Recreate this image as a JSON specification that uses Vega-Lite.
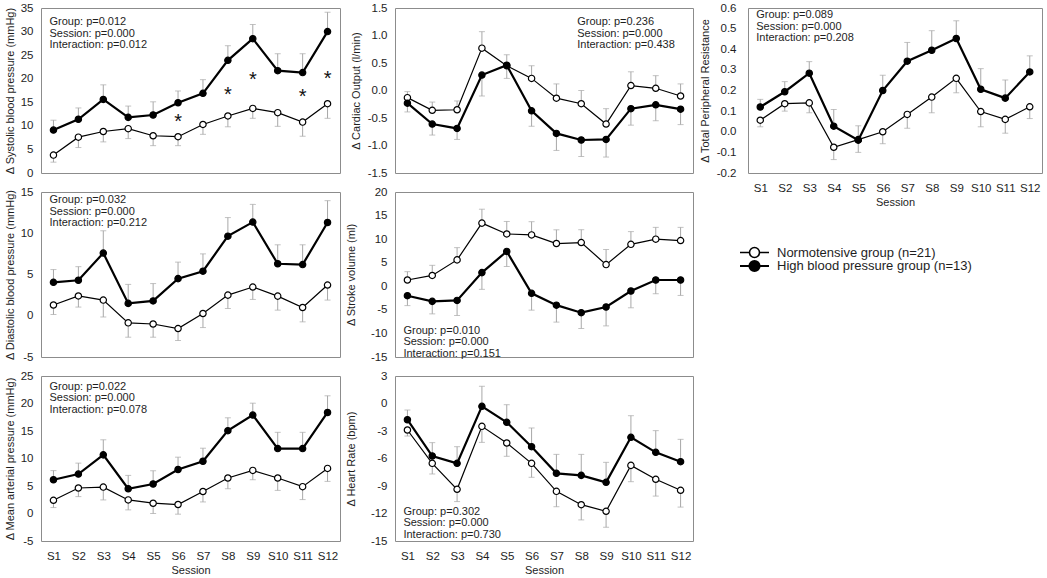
{
  "$schema": "https://vega.github.io/schema/vega-lite/v6.json",
  "background": "white",
  "padding": {"top": 1, "left": 3, "right": 0, "bottom": 0},
  "config": {
    "font": "Liberation Sans",
    "view": {"stroke": "#8c8c8c", "strokeWidth": 1},
    "axis": {"grid": false, "ticks": false, "tickSize": 0, "domain": false, "labelOverlap": false, "labelFont": "Liberation Sans", "labelFontSize": 11.5, "labelColor": "#1e1e1e", "titleFont": "Liberation Sans", "titleFontSize": 11, "titleFontWeight": "normal", "titleColor": "#1e1e1e"},
    "axisY": {"labelExpr": "replace(datum.label, '\u2212', '-')", "tickCount": 20}
  },
  "datasets": {
    "bp": [
      {"panel":"SBP","session":"S1","group":"Normotensive","mean":3.8,"bar":2.3},
      {"panel":"SBP","session":"S2","group":"Normotensive","mean":7.6,"bar":5.4},
      {"panel":"SBP","session":"S3","group":"Normotensive","mean":8.8,"bar":6.6},
      {"panel":"SBP","session":"S4","group":"Normotensive","mean":9.4,"bar":7.3},
      {"panel":"SBP","session":"S5","group":"Normotensive","mean":7.9,"bar":5.8},
      {"panel":"SBP","session":"S6","group":"Normotensive","mean":7.7,"bar":5.8},
      {"panel":"SBP","session":"S7","group":"Normotensive","mean":10.3,"bar":8.2},
      {"panel":"SBP","session":"S8","group":"Normotensive","mean":12.1,"bar":9.8},
      {"panel":"SBP","session":"S9","group":"Normotensive","mean":13.7,"bar":11.6},
      {"panel":"SBP","session":"S10","group":"Normotensive","mean":12.8,"bar":9.9},
      {"panel":"SBP","session":"S11","group":"Normotensive","mean":10.8,"bar":7.8},
      {"panel":"SBP","session":"S12","group":"Normotensive","mean":14.7,"bar":11.6},
      {"panel":"SBP","session":"S1","group":"High","mean":9.1,"bar":11.2},
      {"panel":"SBP","session":"S2","group":"High","mean":11.4,"bar":13.8},
      {"panel":"SBP","session":"S3","group":"High","mean":15.6,"bar":18.7},
      {"panel":"SBP","session":"S4","group":"High","mean":11.8,"bar":14.2},
      {"panel":"SBP","session":"S5","group":"High","mean":12.3,"bar":15.1},
      {"panel":"SBP","session":"S6","group":"High","mean":14.9,"bar":17.4},
      {"panel":"SBP","session":"S7","group":"High","mean":16.9,"bar":19.8},
      {"panel":"SBP","session":"S8","group":"High","mean":23.9,"bar":27.0},
      {"panel":"SBP","session":"S9","group":"High","mean":28.5,"bar":31.5},
      {"panel":"SBP","session":"S10","group":"High","mean":21.7,"bar":25.3},
      {"panel":"SBP","session":"S11","group":"High","mean":21.3,"bar":25.3},
      {"panel":"SBP","session":"S12","group":"High","mean":30.0,"bar":34.1},

      {"panel":"CO","session":"S1","group":"Normotensive","mean":-0.13,"bar":-0.02},
      {"panel":"CO","session":"S2","group":"Normotensive","mean":-0.36,"bar":-0.21},
      {"panel":"CO","session":"S3","group":"Normotensive","mean":-0.35,"bar":-0.19},
      {"panel":"CO","session":"S4","group":"Normotensive","mean":0.77,"bar":1.07},
      {"panel":"CO","session":"S5","group":"Normotensive","mean":0.45,"bar":0.65},
      {"panel":"CO","session":"S6","group":"Normotensive","mean":0.22,"bar":0.45},
      {"panel":"CO","session":"S7","group":"Normotensive","mean":-0.14,"bar":0.12},
      {"panel":"CO","session":"S8","group":"Normotensive","mean":-0.24,"bar":0.0},
      {"panel":"CO","session":"S9","group":"Normotensive","mean":-0.61,"bar":-0.33},
      {"panel":"CO","session":"S10","group":"Normotensive","mean":0.09,"bar":0.34},
      {"panel":"CO","session":"S11","group":"Normotensive","mean":0.04,"bar":0.27},
      {"panel":"CO","session":"S12","group":"Normotensive","mean":-0.1,"bar":0.12},
      {"panel":"CO","session":"S1","group":"High","mean":-0.23,"bar":-0.39},
      {"panel":"CO","session":"S2","group":"High","mean":-0.61,"bar":-0.81},
      {"panel":"CO","session":"S3","group":"High","mean":-0.69,"bar":-0.89},
      {"panel":"CO","session":"S4","group":"High","mean":0.28,"bar":-0.1},
      {"panel":"CO","session":"S5","group":"High","mean":0.46,"bar":0.22},
      {"panel":"CO","session":"S6","group":"High","mean":-0.37,"bar":-0.65},
      {"panel":"CO","session":"S7","group":"High","mean":-0.78,"bar":-1.09},
      {"panel":"CO","session":"S8","group":"High","mean":-0.9,"bar":-1.2},
      {"panel":"CO","session":"S9","group":"High","mean":-0.89,"bar":-1.21},
      {"panel":"CO","session":"S10","group":"High","mean":-0.33,"bar":-0.63},
      {"panel":"CO","session":"S11","group":"High","mean":-0.26,"bar":-0.55},
      {"panel":"CO","session":"S12","group":"High","mean":-0.34,"bar":-0.62},

      {"panel":"TPR","session":"S1","group":"Normotensive","mean":0.056,"bar":0.024},
      {"panel":"TPR","session":"S2","group":"Normotensive","mean":0.136,"bar":0.1},
      {"panel":"TPR","session":"S3","group":"Normotensive","mean":0.14,"bar":0.092},
      {"panel":"TPR","session":"S4","group":"Normotensive","mean":-0.075,"bar":-0.135},
      {"panel":"TPR","session":"S5","group":"Normotensive","mean":-0.038,"bar":-0.1},
      {"panel":"TPR","session":"S6","group":"Normotensive","mean":0.0,"bar":-0.058},
      {"panel":"TPR","session":"S7","group":"Normotensive","mean":0.084,"bar":0.017},
      {"panel":"TPR","session":"S8","group":"Normotensive","mean":0.168,"bar":0.092},
      {"panel":"TPR","session":"S9","group":"Normotensive","mean":0.259,"bar":0.189},
      {"panel":"TPR","session":"S10","group":"Normotensive","mean":0.098,"bar":0.024},
      {"panel":"TPR","session":"S11","group":"Normotensive","mean":0.06,"bar":-0.007},
      {"panel":"TPR","session":"S12","group":"Normotensive","mean":0.121,"bar":0.064},
      {"panel":"TPR","session":"S1","group":"High","mean":0.12,"bar":0.157},
      {"panel":"TPR","session":"S2","group":"High","mean":0.194,"bar":0.243},
      {"panel":"TPR","session":"S3","group":"High","mean":0.284,"bar":0.34},
      {"panel":"TPR","session":"S4","group":"High","mean":0.027,"bar":0.108},
      {"panel":"TPR","session":"S5","group":"High","mean":-0.041,"bar":0.029},
      {"panel":"TPR","session":"S6","group":"High","mean":0.2,"bar":0.274},
      {"panel":"TPR","session":"S7","group":"High","mean":0.342,"bar":0.433},
      {"panel":"TPR","session":"S8","group":"High","mean":0.395,"bar":0.49},
      {"panel":"TPR","session":"S9","group":"High","mean":0.452,"bar":0.538},
      {"panel":"TPR","session":"S10","group":"High","mean":0.206,"bar":0.306},
      {"panel":"TPR","session":"S11","group":"High","mean":0.163,"bar":0.251},
      {"panel":"TPR","session":"S12","group":"High","mean":0.29,"bar":0.368},

      {"panel":"DBP","session":"S1","group":"Normotensive","mean":1.3,"bar":0.15},
      {"panel":"DBP","session":"S2","group":"Normotensive","mean":2.4,"bar":1.05},
      {"panel":"DBP","session":"S3","group":"Normotensive","mean":1.9,"bar":-0.15},
      {"panel":"DBP","session":"S4","group":"Normotensive","mean":-0.86,"bar":-2.6},
      {"panel":"DBP","session":"S5","group":"Normotensive","mean":-1.0,"bar":-2.6},
      {"panel":"DBP","session":"S6","group":"Normotensive","mean":-1.55,"bar":-3.0},
      {"panel":"DBP","session":"S7","group":"Normotensive","mean":0.27,"bar":-1.43},
      {"panel":"DBP","session":"S8","group":"Normotensive","mean":2.5,"bar":0.88},
      {"panel":"DBP","session":"S9","group":"Normotensive","mean":3.48,"bar":1.98},
      {"panel":"DBP","session":"S10","group":"Normotensive","mean":2.38,"bar":0.68},
      {"panel":"DBP","session":"S11","group":"Normotensive","mean":1.0,"bar":-0.74},
      {"panel":"DBP","session":"S12","group":"Normotensive","mean":3.72,"bar":1.9},
      {"panel":"DBP","session":"S1","group":"High","mean":4.05,"bar":5.6},
      {"panel":"DBP","session":"S2","group":"High","mean":4.3,"bar":5.95},
      {"panel":"DBP","session":"S3","group":"High","mean":7.6,"bar":10.3},
      {"panel":"DBP","session":"S4","group":"High","mean":1.5,"bar":3.8},
      {"panel":"DBP","session":"S5","group":"High","mean":1.8,"bar":3.9},
      {"panel":"DBP","session":"S6","group":"High","mean":4.5,"bar":6.5},
      {"panel":"DBP","session":"S7","group":"High","mean":5.4,"bar":7.5},
      {"panel":"DBP","session":"S8","group":"High","mean":9.65,"bar":11.9},
      {"panel":"DBP","session":"S9","group":"High","mean":11.35,"bar":13.5},
      {"panel":"DBP","session":"S10","group":"High","mean":6.3,"bar":8.6},
      {"panel":"DBP","session":"S11","group":"High","mean":6.2,"bar":8.6},
      {"panel":"DBP","session":"S12","group":"High","mean":11.3,"bar":13.95},

      {"panel":"SV","session":"S1","group":"Normotensive","mean":1.33,"bar":3.1},
      {"panel":"SV","session":"S2","group":"Normotensive","mean":2.3,"bar":4.45},
      {"panel":"SV","session":"S3","group":"Normotensive","mean":5.6,"bar":8.2},
      {"panel":"SV","session":"S4","group":"Normotensive","mean":13.4,"bar":16.35},
      {"panel":"SV","session":"S5","group":"Normotensive","mean":11.1,"bar":13.75},
      {"panel":"SV","session":"S6","group":"Normotensive","mean":10.9,"bar":13.7},
      {"panel":"SV","session":"S7","group":"Normotensive","mean":9.07,"bar":11.98},
      {"panel":"SV","session":"S8","group":"Normotensive","mean":9.28,"bar":12.0},
      {"panel":"SV","session":"S9","group":"Normotensive","mean":4.6,"bar":7.8},
      {"panel":"SV","session":"S10","group":"Normotensive","mean":8.9,"bar":11.6},
      {"panel":"SV","session":"S11","group":"Normotensive","mean":10.0,"bar":12.5},
      {"panel":"SV","session":"S12","group":"Normotensive","mean":9.7,"bar":12.5},
      {"panel":"SV","session":"S1","group":"High","mean":-2.0,"bar":-4.1},
      {"panel":"SV","session":"S2","group":"High","mean":-3.2,"bar":-5.85},
      {"panel":"SV","session":"S3","group":"High","mean":-3.0,"bar":-6.2},
      {"panel":"SV","session":"S4","group":"High","mean":2.9,"bar":-0.65},
      {"panel":"SV","session":"S5","group":"High","mean":7.4,"bar":4.2},
      {"panel":"SV","session":"S6","group":"High","mean":-1.5,"bar":-5.06},
      {"panel":"SV","session":"S7","group":"High","mean":-4.0,"bar":-7.6},
      {"panel":"SV","session":"S8","group":"High","mean":-5.6,"bar":-8.95},
      {"panel":"SV","session":"S9","group":"High","mean":-4.4,"bar":-8.4},
      {"panel":"SV","session":"S10","group":"High","mean":-1.0,"bar":-4.56},
      {"panel":"SV","session":"S11","group":"High","mean":1.33,"bar":-1.58},
      {"panel":"SV","session":"S12","group":"High","mean":1.33,"bar":-1.94},

      {"panel":"MAP","session":"S1","group":"Normotensive","mean":2.4,"bar":1.08},
      {"panel":"MAP","session":"S2","group":"Normotensive","mean":4.64,"bar":3.07},
      {"panel":"MAP","session":"S3","group":"Normotensive","mean":4.8,"bar":2.47},
      {"panel":"MAP","session":"S4","group":"Normotensive","mean":2.47,"bar":0.66},
      {"panel":"MAP","session":"S5","group":"Normotensive","mean":1.87,"bar":0.0},
      {"panel":"MAP","session":"S6","group":"Normotensive","mean":1.63,"bar":-0.12},
      {"panel":"MAP","session":"S7","group":"Normotensive","mean":4.0,"bar":2.1},
      {"panel":"MAP","session":"S8","group":"Normotensive","mean":6.45,"bar":4.5},
      {"panel":"MAP","session":"S9","group":"Normotensive","mean":7.83,"bar":6.14},
      {"panel":"MAP","session":"S10","group":"Normotensive","mean":6.45,"bar":4.2},
      {"panel":"MAP","session":"S11","group":"Normotensive","mean":4.88,"bar":2.53},
      {"panel":"MAP","session":"S12","group":"Normotensive","mean":8.2,"bar":5.84},
      {"panel":"MAP","session":"S1","group":"High","mean":6.14,"bar":7.8},
      {"panel":"MAP","session":"S2","group":"High","mean":7.17,"bar":9.16},
      {"panel":"MAP","session":"S3","group":"High","mean":10.66,"bar":13.4},
      {"panel":"MAP","session":"S4","group":"High","mean":4.5,"bar":6.93},
      {"panel":"MAP","session":"S5","group":"High","mean":5.36,"bar":7.77},
      {"panel":"MAP","session":"S6","group":"High","mean":8.0,"bar":10.24},
      {"panel":"MAP","session":"S7","group":"High","mean":9.5,"bar":11.87},
      {"panel":"MAP","session":"S8","group":"High","mean":15.06,"bar":17.4},
      {"panel":"MAP","session":"S9","group":"High","mean":17.9,"bar":20.06},
      {"panel":"MAP","session":"S10","group":"High","mean":11.8,"bar":14.76},
      {"panel":"MAP","session":"S11","group":"High","mean":11.8,"bar":14.76},
      {"panel":"MAP","session":"S12","group":"High","mean":18.37,"bar":21.4},

      {"panel":"HR","session":"S1","group":"Normotensive","mean":-2.89,"bar":-3.55},
      {"panel":"HR","session":"S2","group":"Normotensive","mean":-6.53,"bar":-7.69},
      {"panel":"HR","session":"S3","group":"Normotensive","mean":-9.36,"bar":-10.7},
      {"panel":"HR","session":"S4","group":"Normotensive","mean":-2.49,"bar":-4.24},
      {"panel":"HR","session":"S5","group":"Normotensive","mean":-4.31,"bar":-5.76},
      {"panel":"HR","session":"S6","group":"Normotensive","mean":-6.53,"bar":-8.05},
      {"panel":"HR","session":"S7","group":"Normotensive","mean":-9.58,"bar":-11.26},
      {"panel":"HR","session":"S8","group":"Normotensive","mean":-11.04,"bar":-12.7},
      {"panel":"HR","session":"S9","group":"Normotensive","mean":-11.76,"bar":-13.5},
      {"panel":"HR","session":"S10","group":"Normotensive","mean":-6.75,"bar":-8.53},
      {"panel":"HR","session":"S11","group":"Normotensive","mean":-8.27,"bar":-10.1},
      {"panel":"HR","session":"S12","group":"Normotensive","mean":-9.47,"bar":-11.3},
      {"panel":"HR","session":"S1","group":"High","mean":-1.77,"bar":-0.71},
      {"panel":"HR","session":"S2","group":"High","mean":-5.73,"bar":-4.27},
      {"panel":"HR","session":"S3","group":"High","mean":-6.53,"bar":-4.71},
      {"panel":"HR","session":"S4","group":"High","mean":-0.31,"bar":1.88},
      {"panel":"HR","session":"S5","group":"High","mean":-2.05,"bar":-0.13},
      {"panel":"HR","session":"S6","group":"High","mean":-4.71,"bar":-2.67},
      {"panel":"HR","session":"S7","group":"High","mean":-7.62,"bar":-5.55},
      {"panel":"HR","session":"S8","group":"High","mean":-7.84,"bar":-5.55},
      {"panel":"HR","session":"S9","group":"High","mean":-8.6,"bar":-6.42},
      {"panel":"HR","session":"S10","group":"High","mean":-3.69,"bar":-1.33},
      {"panel":"HR","session":"S11","group":"High","mean":-5.33,"bar":-2.96},
      {"panel":"HR","session":"S12","group":"High","mean":-6.35,"bar":-3.91}
    ],
    "notes": [
      {"panel":"SBP","session":"S1","y":33.2,"label":"Group: p=0.012\nSession: p=0.000\nInteraction: p=0.012"},
      {"panel":"CO","session":"S8","y":1.35,"label":"Group: p=0.236\nSession: p=0.000\nInteraction: p=0.438"},
      {"panel":"TPR","session":"S1","y":0.594,"label":"Group: p=0.089\nSession: p=0.000\nInteraction: p=0.208"},
      {"panel":"DBP","session":"S1","y":14.72,"label":"Group: p=0.032\nSession: p=0.000\nInteraction: p=0.212"},
      {"panel":"SV","session":"S1","y":-8.13,"label":"Group: p=0.010\nSession: p=0.000\nInteraction: p=0.151"},
      {"panel":"MAP","session":"S1","y":24.1,"label":"Group: p=0.022\nSession: p=0.000\nInteraction: p=0.078"},
      {"panel":"HR","session":"S1","y":-11.18,"label":"Group: p=0.302\nSession: p=0.000\nInteraction: p=0.730"}
    ],
    "stars": [
      {"panel":"SBP","session":"S6","y":11.67},
      {"panel":"SBP","session":"S8","y":17.46},
      {"panel":"SBP","session":"S9","y":20.64},
      {"panel":"SBP","session":"S11","y":16.9},
      {"panel":"SBP","session":"S12","y":20.79}
    ]
  },
  "columns": 3,
  "spacing": {"row": 19, "column": 55},
  "bounds": "flush",
  "resolve": {"scale": {"fill": "independent", "strokeWidth": "independent"}, "legend": {"fill": "independent"}},
  "concat": [
    {
      "width": 299, "height": 165,
      "encoding": {"x": {"field": "session", "type": "ordinal", "scale": {"type": "point", "padding": 0.5, "domain": ["S1","S2","S3","S4","S5","S6","S7","S8","S9","S10","S11","S12"]}, "axis": null}},
      "layer": [
        {
          "data": {"name": "bp"},
          "transform": [{"filter": "datum.panel == 'SBP'"}],
          "layer": [
            {"mark": {"type": "rule", "color": "#a8a8a8", "strokeWidth": 1},
             "encoding": {"y": {"field": "mean", "type": "quantitative", "scale": {"domain": [0, 35], "nice": false, "zero": false},
               "axis": {"title": "Δ Systolic blood pressure (mmHg)", "values": [0,5,10,15,20,25,30,35], "tickCount": 20, "labelPadding": 8, "titlePadding": 5}},
               "y2": {"field": "bar"}}},
            {"mark": {"type": "tick", "color": "#a8a8a8", "thickness": 1, "size": 6},
             "encoding": {"y": {"field": "bar", "type": "quantitative", "scale": {"domain": [0, 35], "nice": false, "zero": false}}}},
            {"mark": {"type": "line", "color": "black"},
             "encoding": {"y": {"field": "mean", "type": "quantitative", "scale": {"domain": [0, 35], "nice": false, "zero": false}},
               "strokeWidth": {"field": "group", "type": "nominal", "scale": {"domain": ["Normotensive", "High"], "range": [1.2, 2.2]}, "legend": null},
               "order": {"value": null}}},
            {"mark": {"type": "circle", "stroke": "black", "strokeWidth": 1.2, "size": 40, "opacity": 1},
             "encoding": {"y": {"field": "mean", "type": "quantitative", "scale": {"domain": [0, 35], "nice": false, "zero": false}},
               "fill": {"field": "group", "type": "nominal", "scale": {"domain": ["Normotensive", "High"], "range": ["white", "black"]}, "legend": null}}}
          ]
        },
        {
          "data": {"name": "notes"},
          "transform": [{"filter": "datum.panel == 'SBP'"}],
          "mark": {"type": "text", "align": "left", "baseline": "top", "dx": -4, "fontSize": 11, "lineHeight": 11.5, "lineBreak": "\n", "color": "#1e1e1e"},
          "encoding": {"y": {"field": "y", "type": "quantitative", "scale": {"domain": [0, 35], "nice": false, "zero": false}}, "text": {"field": "label"}}
        },
        {
          "data": {"name": "stars"},
          "mark": {"type": "text", "text": "*", "fontSize": 20, "baseline": "middle", "dy": 4, "color": "#111111"},
          "encoding": {"y": {"field": "y", "type": "quantitative", "scale": {"domain": [0, 35], "nice": false, "zero": false}}}
        }
      ]
    },
    {
      "width": 298, "height": 165,
      "encoding": {"x": {"field": "session", "type": "ordinal", "scale": {"type": "point", "padding": 0.5, "domain": ["S1","S2","S3","S4","S5","S6","S7","S8","S9","S10","S11","S12"]}, "axis": null}},
      "layer": [
        {
          "data": {"name": "bp"},
          "transform": [{"filter": "datum.panel == 'CO'"}],
          "layer": [
            {"mark": {"type": "rule", "color": "#a8a8a8", "strokeWidth": 1},
             "encoding": {"y": {"field": "mean", "type": "quantitative", "scale": {"domain": [-1.5, 1.5], "nice": false, "zero": false},
               "axis": {"title": "Δ Cardiac Output (l/min)", "values": [-1.5,-1,-0.5,0,0.5,1,1.5], "tickCount": 20, "format": ".1f", "labelPadding": 8, "titlePadding": 6}},
               "y2": {"field": "bar"}}},
            {"mark": {"type": "tick", "color": "#a8a8a8", "thickness": 1, "size": 6},
             "encoding": {"y": {"field": "bar", "type": "quantitative", "scale": {"domain": [-1.5, 1.5], "nice": false, "zero": false}}}},
            {"mark": {"type": "line", "color": "black"},
             "encoding": {"y": {"field": "mean", "type": "quantitative", "scale": {"domain": [-1.5, 1.5], "nice": false, "zero": false}},
               "strokeWidth": {"field": "group", "type": "nominal", "scale": {"domain": ["Normotensive", "High"], "range": [1.2, 2.2]}, "legend": null},
               "order": {"value": null}}},
            {"mark": {"type": "circle", "stroke": "black", "strokeWidth": 1.2, "size": 40, "opacity": 1},
             "encoding": {"y": {"field": "mean", "type": "quantitative", "scale": {"domain": [-1.5, 1.5], "nice": false, "zero": false}},
               "fill": {"field": "group", "type": "nominal", "scale": {"domain": ["Normotensive", "High"], "range": ["white", "black"]}, "legend": null}}}
          ]
        },
        {
          "data": {"name": "notes"},
          "transform": [{"filter": "datum.panel == 'CO'"}],
          "mark": {"type": "text", "align": "left", "baseline": "top", "dx": -4, "fontSize": 11, "lineHeight": 11.5, "lineBreak": "\n", "color": "#1e1e1e"},
          "encoding": {"y": {"field": "y", "type": "quantitative", "scale": {"domain": [-1.5, 1.5], "nice": false, "zero": false}}, "text": {"field": "label"}}
        }
      ]
    },
    {
      "width": 294, "height": 165,
      "encoding": {"x": {"field": "session", "type": "ordinal", "scale": {"type": "point", "padding": 0.5, "domain": ["S1","S2","S3","S4","S5","S6","S7","S8","S9","S10","S11","S12"]},
        "axis": {"title": "Session", "labelAngle": 0, "labelPadding": 9, "titlePadding": 3}}},
      "layer": [
        {
          "data": {"name": "bp"},
          "transform": [{"filter": "datum.panel == 'TPR'"}],
          "layer": [
            {"mark": {"type": "rule", "color": "#a8a8a8", "strokeWidth": 1},
             "encoding": {"y": {"field": "mean", "type": "quantitative", "scale": {"domain": [-0.2, 0.6], "nice": false, "zero": false},
               "axis": {"title": "Δ Total Peripheral Resistance", "values": [-0.2,-0.1,0,0.1,0.2,0.3,0.4,0.5,0.6], "tickCount": 20, "format": ".1f", "labelPadding": 12, "titlePadding": 6}},
               "y2": {"field": "bar"}}},
            {"mark": {"type": "tick", "color": "#a8a8a8", "thickness": 1, "size": 6},
             "encoding": {"y": {"field": "bar", "type": "quantitative", "scale": {"domain": [-0.2, 0.6], "nice": false, "zero": false}}}},
            {"mark": {"type": "line", "color": "black"},
             "encoding": {"y": {"field": "mean", "type": "quantitative", "scale": {"domain": [-0.2, 0.6], "nice": false, "zero": false}},
               "strokeWidth": {"field": "group", "type": "nominal", "scale": {"domain": ["Normotensive", "High"], "range": [1.2, 2.2]}, "legend": null},
               "order": {"value": null}}},
            {"mark": {"type": "circle", "stroke": "black", "strokeWidth": 1.2, "size": 40, "opacity": 1},
             "encoding": {"y": {"field": "mean", "type": "quantitative", "scale": {"domain": [-0.2, 0.6], "nice": false, "zero": false}},
               "fill": {"field": "group", "type": "nominal", "scale": {"domain": ["Normotensive", "High"], "range": ["white", "black"]}, "legend": null}}}
          ]
        },
        {
          "data": {"name": "notes"},
          "transform": [{"filter": "datum.panel == 'TPR'"}],
          "mark": {"type": "text", "align": "left", "baseline": "top", "dx": -4, "fontSize": 11, "lineHeight": 11.5, "lineBreak": "\n", "color": "#1e1e1e"},
          "encoding": {"y": {"field": "y", "type": "quantitative", "scale": {"domain": [-0.2, 0.6], "nice": false, "zero": false}}, "text": {"field": "label"}}
        }
      ]
    },
    {
      "width": 299, "height": 165,
      "encoding": {"x": {"field": "session", "type": "ordinal", "scale": {"type": "point", "padding": 0.5, "domain": ["S1","S2","S3","S4","S5","S6","S7","S8","S9","S10","S11","S12"]}, "axis": null}},
      "layer": [
        {
          "data": {"name": "bp"},
          "transform": [{"filter": "datum.panel == 'DBP'"}],
          "layer": [
            {"mark": {"type": "rule", "color": "#a8a8a8", "strokeWidth": 1},
             "encoding": {"y": {"field": "mean", "type": "quantitative", "scale": {"domain": [-5, 15], "nice": false, "zero": false},
               "axis": {"title": "Δ Diastolic blood pressure (mmHg)", "values": [-5,0,5,10,15], "tickCount": 20, "labelPadding": 8, "titlePadding": 5}},
               "y2": {"field": "bar"}}},
            {"mark": {"type": "tick", "color": "#a8a8a8", "thickness": 1, "size": 6},
             "encoding": {"y": {"field": "bar", "type": "quantitative", "scale": {"domain": [-5, 15], "nice": false, "zero": false}}}},
            {"mark": {"type": "line", "color": "black"},
             "encoding": {"y": {"field": "mean", "type": "quantitative", "scale": {"domain": [-5, 15], "nice": false, "zero": false}},
               "strokeWidth": {"field": "group", "type": "nominal", "scale": {"domain": ["Normotensive", "High"], "range": [1.2, 2.2]}, "legend": null},
               "order": {"value": null}}},
            {"mark": {"type": "circle", "stroke": "black", "strokeWidth": 1.2, "size": 40, "opacity": 1},
             "encoding": {"y": {"field": "mean", "type": "quantitative", "scale": {"domain": [-5, 15], "nice": false, "zero": false}},
               "fill": {"field": "group", "type": "nominal", "scale": {"domain": ["Normotensive", "High"], "range": ["white", "black"]}, "legend": null}}}
          ]
        },
        {
          "data": {"name": "notes"},
          "transform": [{"filter": "datum.panel == 'DBP'"}],
          "mark": {"type": "text", "align": "left", "baseline": "top", "dx": -4, "fontSize": 11, "lineHeight": 11.5, "lineBreak": "\n", "color": "#1e1e1e"},
          "encoding": {"y": {"field": "y", "type": "quantitative", "scale": {"domain": [-5, 15], "nice": false, "zero": false}}, "text": {"field": "label"}}
        }
      ]
    },
    {
      "width": 298, "height": 165,
      "encoding": {"x": {"field": "session", "type": "ordinal", "scale": {"type": "point", "padding": 0.5, "domain": ["S1","S2","S3","S4","S5","S6","S7","S8","S9","S10","S11","S12"]}, "axis": null}},
      "layer": [
        {
          "data": {"name": "bp"},
          "transform": [{"filter": "datum.panel == 'SV'"}],
          "layer": [
            {"mark": {"type": "rule", "color": "#a8a8a8", "strokeWidth": 1},
             "encoding": {"y": {"field": "mean", "type": "quantitative", "scale": {"domain": [-15, 20], "nice": false, "zero": false},
               "axis": {"title": "Δ Stroke volume (ml)", "values": [-15,-10,-5,0,5,10,15,20], "tickCount": 20, "labelPadding": 8, "titlePadding": 14}},
               "y2": {"field": "bar"}}},
            {"mark": {"type": "tick", "color": "#a8a8a8", "thickness": 1, "size": 6},
             "encoding": {"y": {"field": "bar", "type": "quantitative", "scale": {"domain": [-15, 20], "nice": false, "zero": false}}}},
            {"mark": {"type": "line", "color": "black"},
             "encoding": {"y": {"field": "mean", "type": "quantitative", "scale": {"domain": [-15, 20], "nice": false, "zero": false}},
               "strokeWidth": {"field": "group", "type": "nominal", "scale": {"domain": ["Normotensive", "High"], "range": [1.2, 2.2]}, "legend": null},
               "order": {"value": null}}},
            {"mark": {"type": "circle", "stroke": "black", "strokeWidth": 1.2, "size": 40, "opacity": 1},
             "encoding": {"y": {"field": "mean", "type": "quantitative", "scale": {"domain": [-15, 20], "nice": false, "zero": false}},
               "fill": {"field": "group", "type": "nominal", "scale": {"domain": ["Normotensive", "High"], "range": ["white", "black"]}, "legend": null}}}
          ]
        },
        {
          "data": {"name": "notes"},
          "transform": [{"filter": "datum.panel == 'SV'"}],
          "mark": {"type": "text", "align": "left", "baseline": "top", "dx": -4, "fontSize": 11, "lineHeight": 11.5, "lineBreak": "\n", "color": "#1e1e1e"},
          "encoding": {"y": {"field": "y", "type": "quantitative", "scale": {"domain": [-15, 20], "nice": false, "zero": false}}, "text": {"field": "label"}}
        }
      ]
    },
    {
      "width": 294, "height": 165,
      "view": {"stroke": null},
      "data": {"name": "bp"},
      "transform": [{"filter": "datum.panel == 'none'"}],
      "resolve": {"legend": {"fill": "independent"}},
      "layer": [
        {
          "mark": {"type": "circle", "opacity": 1},
          "encoding": {
            "fill": {"field": "group", "type": "nominal", "scale": {"domain": ["Normotensive", "High"], "range": ["white", "black"]},
              "legend": {"title": null, "orient": "none", "legendX": 0, "legendY": 54, "padding": 0, "values": ["Normotensive"],
                "symbolType": "M-2.9,0L-1,0M1,0L2.9,0M1,0A1,1,0,1,1,-1,0A1,1,0,1,1,1,0Z",
                "symbolSize": 100, "symbolStrokeColor": "black", "symbolStrokeWidth": 1.6, "symbolOpacity": 1,
                "labelFont": "Liberation Sans", "labelFontSize": 13, "labelColor": "#1e1e1e", "labelOffset": 16, "labelLimit": 400,
                "labelExpr": "'Normotensive group (n=21)'"}}
          }
        },
        {
          "mark": {"type": "circle", "opacity": 1},
          "encoding": {
            "fill": {"field": "group", "type": "nominal", "scale": {"domain": ["Normotensive", "High"], "range": ["white", "black"]},
              "legend": {"title": null, "orient": "none", "legendX": 0, "legendY": 67.5, "padding": 0, "values": ["High"],
                "symbolType": "M-2.9,0L-1,0M1,0L2.9,0M1,0A1,1,0,1,1,-1,0A1,1,0,1,1,1,0Z",
                "symbolSize": 100, "symbolStrokeColor": "black", "symbolStrokeWidth": 2.2, "symbolOpacity": 1,
                "labelFont": "Liberation Sans", "labelFontSize": 13, "labelColor": "#1e1e1e", "labelOffset": 16, "labelLimit": 400,
                "labelExpr": "'High blood pressure group (n=13)'"}}
          }
        }
      ]
    },
    {
      "width": 299, "height": 165,
      "encoding": {"x": {"field": "session", "type": "ordinal", "scale": {"type": "point", "padding": 0.5, "domain": ["S1","S2","S3","S4","S5","S6","S7","S8","S9","S10","S11","S12"]},
        "axis": {"title": "Session", "labelAngle": 0, "labelPadding": 9, "titlePadding": 3}}},
      "layer": [
        {
          "data": {"name": "bp"},
          "transform": [{"filter": "datum.panel == 'MAP'"}],
          "layer": [
            {"mark": {"type": "rule", "color": "#a8a8a8", "strokeWidth": 1},
             "encoding": {"y": {"field": "mean", "type": "quantitative", "scale": {"domain": [-5, 25], "nice": false, "zero": false},
               "axis": {"title": "Δ Mean arterial pressure (mmHg)", "values": [-5,0,5,10,15,20,25], "tickCount": 20, "labelPadding": 8, "titlePadding": 5}},
               "y2": {"field": "bar"}}},
            {"mark": {"type": "tick", "color": "#a8a8a8", "thickness": 1, "size": 6},
             "encoding": {"y": {"field": "bar", "type": "quantitative", "scale": {"domain": [-5, 25], "nice": false, "zero": false}}}},
            {"mark": {"type": "line", "color": "black"},
             "encoding": {"y": {"field": "mean", "type": "quantitative", "scale": {"domain": [-5, 25], "nice": false, "zero": false}},
               "strokeWidth": {"field": "group", "type": "nominal", "scale": {"domain": ["Normotensive", "High"], "range": [1.2, 2.2]}, "legend": null},
               "order": {"value": null}}},
            {"mark": {"type": "circle", "stroke": "black", "strokeWidth": 1.2, "size": 40, "opacity": 1},
             "encoding": {"y": {"field": "mean", "type": "quantitative", "scale": {"domain": [-5, 25], "nice": false, "zero": false}},
               "fill": {"field": "group", "type": "nominal", "scale": {"domain": ["Normotensive", "High"], "range": ["white", "black"]}, "legend": null}}}
          ]
        },
        {
          "data": {"name": "notes"},
          "transform": [{"filter": "datum.panel == 'MAP'"}],
          "mark": {"type": "text", "align": "left", "baseline": "top", "dx": -4, "fontSize": 11, "lineHeight": 11.5, "lineBreak": "\n", "color": "#1e1e1e"},
          "encoding": {"y": {"field": "y", "type": "quantitative", "scale": {"domain": [-5, 25], "nice": false, "zero": false}}, "text": {"field": "label"}}
        }
      ]
    },
    {
      "width": 298, "height": 165,
      "encoding": {"x": {"field": "session", "type": "ordinal", "scale": {"type": "point", "padding": 0.5, "domain": ["S1","S2","S3","S4","S5","S6","S7","S8","S9","S10","S11","S12"]},
        "axis": {"title": "Session", "labelAngle": 0, "labelPadding": 9, "titlePadding": 3}}},
      "layer": [
        {
          "data": {"name": "bp"},
          "transform": [{"filter": "datum.panel == 'HR'"}],
          "layer": [
            {"mark": {"type": "rule", "color": "#a8a8a8", "strokeWidth": 1},
             "encoding": {"y": {"field": "mean", "type": "quantitative", "scale": {"domain": [-15, 3], "nice": false, "zero": false},
               "axis": {"title": "Δ Heart Rate (bpm)", "values": [-15,-12,-9,-6,-3,0,3], "tickCount": 20, "labelPadding": 8, "titlePadding": 14}},
               "y2": {"field": "bar"}}},
            {"mark": {"type": "tick", "color": "#a8a8a8", "thickness": 1, "size": 6},
             "encoding": {"y": {"field": "bar", "type": "quantitative", "scale": {"domain": [-15, 3], "nice": false, "zero": false}}}},
            {"mark": {"type": "line", "color": "black"},
             "encoding": {"y": {"field": "mean", "type": "quantitative", "scale": {"domain": [-15, 3], "nice": false, "zero": false}},
               "strokeWidth": {"field": "group", "type": "nominal", "scale": {"domain": ["Normotensive", "High"], "range": [1.2, 2.2]}, "legend": null},
               "order": {"value": null}}},
            {"mark": {"type": "circle", "stroke": "black", "strokeWidth": 1.2, "size": 40, "opacity": 1},
             "encoding": {"y": {"field": "mean", "type": "quantitative", "scale": {"domain": [-15, 3], "nice": false, "zero": false}},
               "fill": {"field": "group", "type": "nominal", "scale": {"domain": ["Normotensive", "High"], "range": ["white", "black"]}, "legend": null}}}
          ]
        },
        {
          "data": {"name": "notes"},
          "transform": [{"filter": "datum.panel == 'HR'"}],
          "mark": {"type": "text", "align": "left", "baseline": "top", "dx": -4, "fontSize": 11, "lineHeight": 11.5, "lineBreak": "\n", "color": "#1e1e1e"},
          "encoding": {"y": {"field": "y", "type": "quantitative", "scale": {"domain": [-15, 3], "nice": false, "zero": false}}, "text": {"field": "label"}}
        }
      ]
    }
  ]
}
